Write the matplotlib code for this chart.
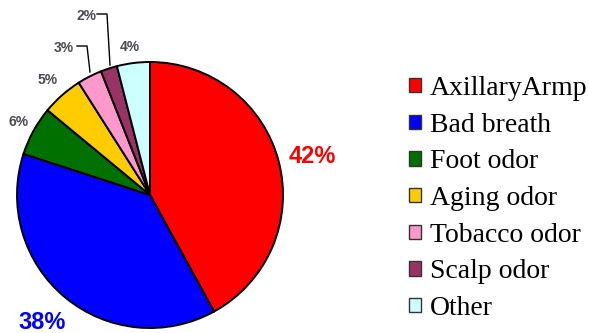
import matplotlib.pyplot as plt
from matplotlib.patches import Patch

labels = ["AxillaryArmp", "Bad breath", "Foot odor", "Aging odor",
          "Tobacco odor", "Scalp odor", "Other"]
shares = [42, 38, 6, 5, 3, 2, 4]
colors = ["#FF0000", "#0000FF", "#007000", "#FFCC00",
          "#FF99CC", "#993366", "#CCFFFF"]

fig = plt.figure(figsize=(5.89, 3.33), dpi=100)
ax = fig.add_axes([0, 0, 1, 1])

ax.pie(shares, colors=colors, startangle=90, counterclock=False, radius=1.0,
       wedgeprops=dict(edgecolor="black", linewidth=1.4))
ax.set_xlim(-150 / 133, (589 - 150) / 133)
ax.set_ylim(-138 / 133, (333 - 138) / 133)
ax.set_aspect("equal", adjustable="box")
ax.axis("off")

# big labels for the two main slices
big = dict(fontsize=17, fontweight="heavy", family="Liberation Sans",
           ha="center", va="center")
ax.text(1.22, 0.29, f"{shares[0]}%", color="#FF0000", **big)
ax.text(-0.81, -0.955, f"{shares[1]}%", color="#0000FF", **big)

# small labels for the rest
small = dict(fontsize=10, fontweight="bold", family="Liberation Sans",
             ha="center", va="center", color="#4a4a55")
pos = {2: (-0.99, 0.55), 3: (-0.767, 0.865), 4: (-0.647, 1.105),
       5: (-0.48, 1.346), 6: (-0.15, 1.113)}
for i, (x, y) in pos.items():
    ax.text(x, y, f"{shares[i]}%", **small)

# leader lines for the thin slices
def px(x, y):
    return (x - 150) / 133, (195 - y) / 133

for pts in ([(77, 46), (87, 46), (90, 72)], [(97, 14), (107, 14), (110, 65)]):
    xs, ys = zip(*[px(*p) for p in pts])
    ax.plot(xs, ys, color="black", lw=1)

handles = [Patch(facecolor=c, edgecolor="#333333", linewidth=1.0) for c in colors]
fig.legend(handles, labels, loc="upper left", bbox_to_anchor=(409 / 589, 1 - 76 / 333),
           frameon=False, prop={"family": "Liberation Serif", "size": 20},
           handlelength=0.42, handleheight=0.42, handletextpad=0.33,
           labelspacing=0.42, borderpad=0, borderaxespad=0)

fig.savefig("out.png", dpi=100)
